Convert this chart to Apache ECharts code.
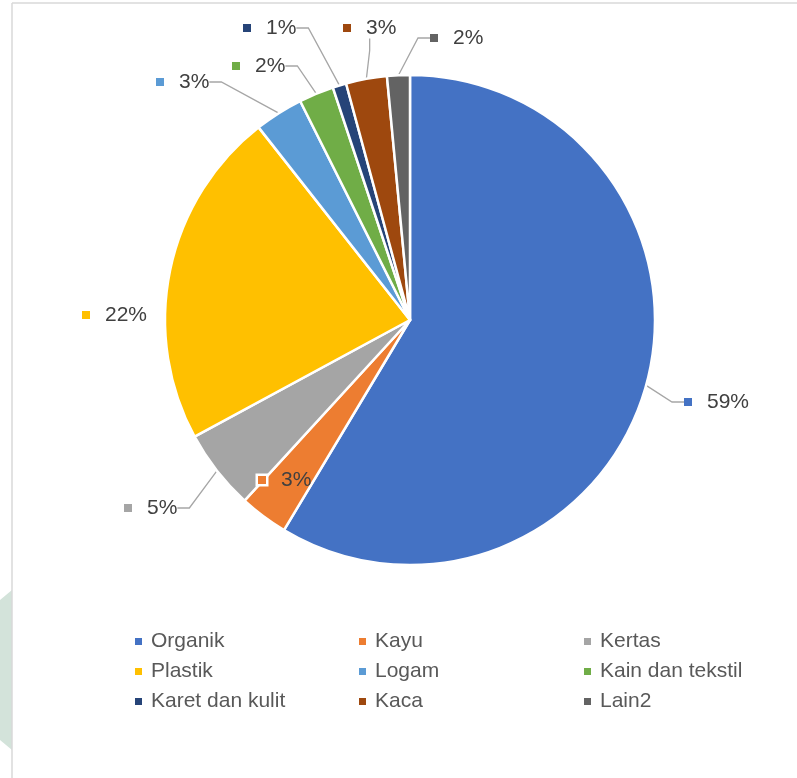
<!DOCTYPE html>
<html>
<head>
<meta charset="utf-8">
<script src="https://cdn.jsdelivr.net/npm/echarts@6/dist/echarts.min.js"></script>
<style>html,body{margin:0;padding:0;background:#fff}#c{width:797px;height:778px}</style>
</head>
<body>
<div id="c"></div>
<script>
var categories = ['Organik','Kayu','Kertas','Plastik','Logam','Kain dan tekstil','Karet dan kulit','Kaca','Lain2'];
var values = [58.6, 3.2, 5.3, 22.3, 3.2, 2.3, 0.9, 2.7, 1.5];
var colors = ['#4472C4','#ED7D31','#A5A5A5','#FFC000','#5B9BD5','#70AD47','#264478','#9E480E','#636363'];
// label anchor positions (left edge of marker, vertical middle)
var labelPos = [[684,402],[258,480],[124,508],[82,315],[156,82],[232,66],[243,28],[343,28],[430,38]];

var FONT = '"Liberation Sans", Arial, sans-serif';
var data = categories.map(function(n,i){
  var item = {name:n, value:values[i], itemStyle:{color:colors[i]}};
  if (i===1) {
    item.label = {position:'inside', rich:{m:{width:8,height:8,backgroundColor:colors[1],borderColor:'#fff',borderWidth:2.5}}};
    item.labelLine = {show:false};
  }
  if (i===3) { item.labelLine = {show:false}; }
  return item;
});
var chart = echarts.init(document.getElementById('c'));
function legendFor(names, left){
  return {orient:'vertical', left:left, top:631, padding:0, itemWidth:9, itemHeight:9, itemGap:9,
    icon:'rect', data:names,
    textStyle:{fontFamily:FONT, fontSize:21, lineHeight:21, color:'#595959', padding:[0,0,0,3]}};
}
chart.setOption({
  animation:false,
  legend:[
    legendFor(['Organik','Plastik','Karet dan kulit'],133),
    legendFor(['Kayu','Logam','Kaca'],357),
    legendFor(['Kertas','Kain dan tekstil','Lain2'],582)
  ],
  graphic:[
    {type:'polygon', shape:{points:[[0,600],[12,590],[12,750],[0,740]]}, style:{fill:'#d3e3da'}, silent:true},
    {type:'line', shape:{x1:12,y1:3,x2:797,y2:3}, style:{stroke:'#d9d9d9', lineWidth:1.5}},
    {type:'line', shape:{x1:12,y1:3,x2:12,y2:778}, style:{stroke:'#d9d9d9', lineWidth:1.5}}
  ],
  series:[{
    type:'pie',
    center:[410,320],
    radius:[0,245],
    startAngle:90,
    clockwise:true,
    data:data,
    itemStyle:{borderColor:'#fff', borderWidth:2.5},
    emphasis:{disabled:true},
    label:{
      show:true,
      position:'outside',
      formatter:function(p){ return '{m|}{t|' + Math.round(p.value) + '%}'; },
      rich:{
        m:{width:8, height:8, backgroundColor:'inherit'},
        t:{fontFamily:FONT, fontSize:21, color:'#404040', padding:[0,0,0,15]}
      }
    },
    labelLine:{show:true, length:12, length2:12, lineStyle:{color:'#a6a6a6', width:1.3}},
    labelLayout:function(p){
      var pos = labelPos[p.dataIndex];
      return {x:pos[0], y:pos[1], align:'left', verticalAlign:'middle'};
    }
  }]
});
</script>
</body>
</html>
